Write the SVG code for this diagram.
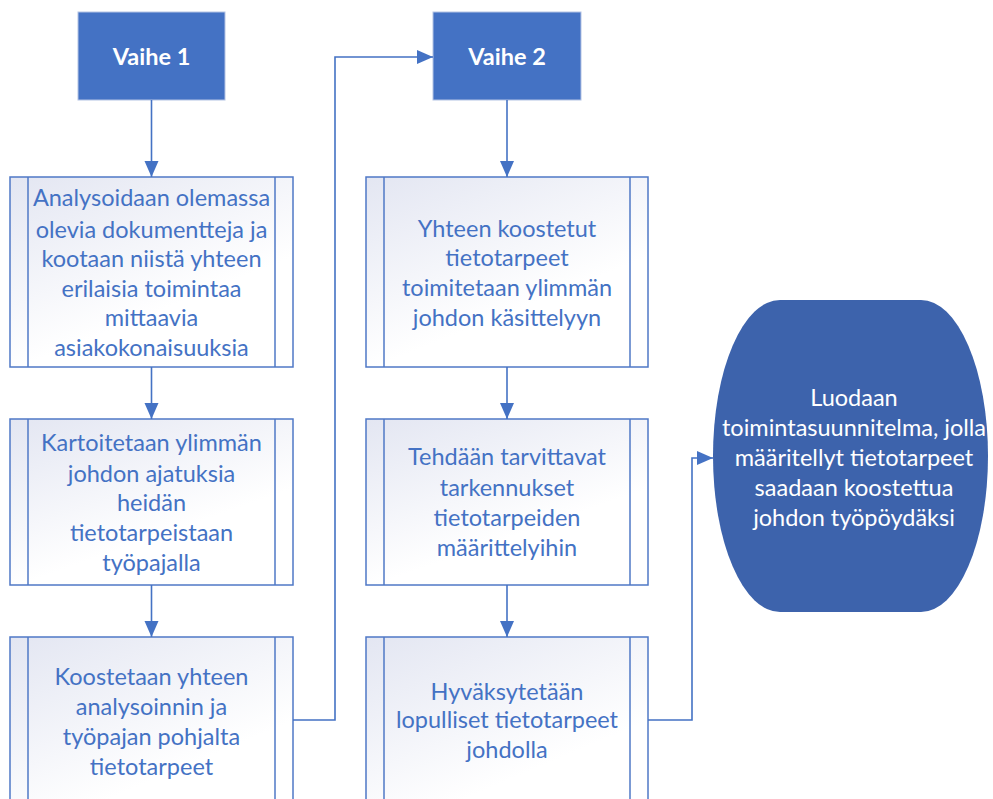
<svg xmlns="http://www.w3.org/2000/svg" width="993" height="799" viewBox="0 0 993 799">
  <style>
    .phase rect { fill: #4472C4; stroke: #B4C3E4; stroke-width: 1; }
    .phase text { fill: #FFFFFF; font-family: Lato, "Open Sans", sans-serif; font-size: 23.5px; font-weight: bold; text-anchor: middle; }
    .step rect, .step line { stroke: #4F78C6; stroke-width: 1.5; }
    .step rect { fill: url(#stepFill); }
    .step text { fill: #4472C4; font-family: Lato, "Open Sans", sans-serif; font-size: 23.5px; text-anchor: middle; }
    .goal path { fill: #3D63AC; }
    .goal text { fill: #FFFFFF; font-family: Lato, "Open Sans", sans-serif; font-size: 23.5px; text-anchor: middle; }
    .connectors path { fill: none; stroke: #4472C4; stroke-width: 1.6; marker-end: url(#arrow); }
  </style>
  <defs>
    <linearGradient id="stepFill" x1="0" y1="0" x2="0.6" y2="1">
      <stop offset="0" stop-color="#E3E6F2"/>
      <stop offset="0.75" stop-color="#FFFFFF"/>
      <stop offset="1" stop-color="#FFFFFF"/>
    </linearGradient>
    <marker id="arrow" markerUnits="userSpaceOnUse" markerWidth="16" markerHeight="16" viewBox="0 0 16 16" refX="16" refY="8" orient="auto">
      <path d="M0,1 L16,8 L0,15 Z" fill="#4472C4"/>
    </marker>
  </defs>

  <rect width="993" height="799" fill="#FFFFFF"/>

  <!-- phase headers -->
  <g id="vaihe1" class="phase">
    <rect x="78" y="12" width="147" height="88"/>
    <text x="151.5" y="65">Vaihe 1</text>
  </g>
  <g id="vaihe2" class="phase">
    <rect x="433" y="12" width="148" height="88"/>
    <text x="507" y="65">Vaihe 2</text>
  </g>

  <!-- phase 1 steps -->
  <g id="v1-analysointi" class="step">
    <rect x="10" y="177" width="283" height="190"/>
    <line x1="28" y1="177" x2="28" y2="367"/>
    <line x1="275" y1="177" x2="275" y2="367"/>
    <text x="151.5" y="206">Analysoidaan olemassa</text>
    <text x="151.5" y="238">olevia dokumentteja ja</text>
    <text x="151.5" y="267">kootaan niistä yhteen</text>
    <text x="151.5" y="297">erilaisia toimintaa</text>
    <text x="151.5" y="326">mittaavia</text>
    <text x="151.5" y="356">asiakokonaisuuksia</text>
  </g>
  <g id="v1-tyopaja" class="step">
    <rect x="10" y="419" width="283" height="166"/>
    <line x1="28" y1="419" x2="28" y2="585"/>
    <line x1="275" y1="419" x2="275" y2="585"/>
    <text x="151.5" y="451">Kartoitetaan ylimmän</text>
    <text x="151.5" y="482">johdon ajatuksia</text>
    <text x="151.5" y="511">heidän</text>
    <text x="151.5" y="541">tietotarpeistaan</text>
    <text x="151.5" y="571">työpajalla</text>
  </g>
  <g id="v1-koostaminen" class="step">
    <rect x="10" y="637" width="283" height="200"/>
    <line x1="28" y1="637" x2="28" y2="837"/>
    <line x1="275" y1="637" x2="275" y2="837"/>
    <text x="151.5" y="685">Koostetaan yhteen</text>
    <text x="151.5" y="715">analysoinnin ja</text>
    <text x="151.5" y="745">työpajan pohjalta</text>
    <text x="151.5" y="775">tietotarpeet</text>
  </g>

  <!-- phase 2 steps -->
  <g id="v2-kasittely" class="step">
    <rect x="366" y="177" width="282" height="190"/>
    <line x1="384" y1="177" x2="384" y2="367"/>
    <line x1="630" y1="177" x2="630" y2="367"/>
    <text x="507" y="237">Yhteen koostetut</text>
    <text x="507" y="266">tietotarpeet</text>
    <text x="507" y="296">toimitetaan ylimmän</text>
    <text x="507" y="326">johdon käsittelyyn</text>
  </g>
  <g id="v2-tarkennukset" class="step">
    <rect x="366" y="419" width="282" height="166"/>
    <line x1="384" y1="419" x2="384" y2="585"/>
    <line x1="630" y1="419" x2="630" y2="585"/>
    <text x="507" y="465">Tehdään tarvittavat</text>
    <text x="507" y="496">tarkennukset</text>
    <text x="507" y="526">tietotarpeiden</text>
    <text x="507" y="556">määrittelyihin</text>
  </g>
  <g id="v2-hyvaksynta" class="step">
    <rect x="366" y="637" width="282" height="200"/>
    <line x1="384" y1="637" x2="384" y2="837"/>
    <line x1="630" y1="637" x2="630" y2="837"/>
    <text x="507" y="700">Hyväksytetään</text>
    <text x="507" y="728">lopulliset tietotarpeet</text>
    <text x="507" y="758">johdolla</text>
  </g>

  <!-- outcome -->
  <g id="toimintasuunnitelma" class="goal">
    <path d="M780,300 H921 A67,156 0 0 1 988,456 A67,156 0 0 1 921,612 H780 A67,156 0 0 1 713,456 A67,156 0 0 1 780,300 Z"/>
    <text x="854" y="406">Luodaan</text>
    <text x="854" y="436">toimintasuunnitelma, jolla</text>
    <text x="854" y="466">määritellyt tietotarpeet</text>
    <text x="854" y="496">saadaan koostettua</text>
    <text x="854" y="526">johdon työpöydäksi</text>
  </g>

  <!-- connectors -->
  <g id="connectors" class="connectors">
    <path d="M151.5,100 V177"/>
    <path d="M151.5,367 V419"/>
    <path d="M151.5,585 V637"/>
    <path d="M293,720 H335 V57 H433"/>
    <path d="M507,100 V177"/>
    <path d="M507,367 V419"/>
    <path d="M507,585 V637"/>
    <path d="M648,720 H692 V458 H713"/>
  </g>
</svg>
